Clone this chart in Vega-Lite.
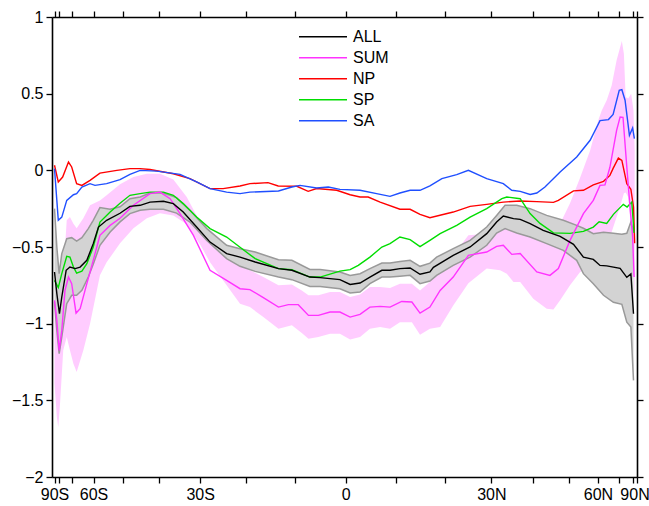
{
"$schema":"https://vega.github.io/schema/vega-lite/v6.json",
"width":585,"height":460,
"autosize":{"type":"none"},
"padding":{"left":52,"top":17,"right":12,"bottom":29},
"config":{"view":{"stroke":null},"font":"Liberation Sans",
"axis":{"domainColor":"#000","domainWidth":1.6,"tickColor":"#000","tickWidth":1.3,"tickSize":6,"labelFont":"Liberation Sans","labelFontSize":16,"labelColor":"#000","grid":false,"title":null,"labelFlush":false,"labelOverlap":false},
"legend":{"labelFont":"Liberation Sans","labelFontSize":16,"labelColor":"#000","padding":0}},
"datasets":{
"pink":[
{"sinlat":-1.0,"hi":-0.835,"lo":-1.389},{"sinlat":-0.992,"hi":-0.913,"lo":-1.609},{"sinlat":-0.987,"hi":-0.998,"lo":-1.675},{"sinlat":-0.981,"hi":-0.946,"lo":-1.52},{"sinlat":-0.97,"hi":-0.685,"lo":-1.174},{"sinlat":-0.958,"hi":-0.326,"lo":-1.087},{"sinlat":-0.947,"hi":-0.305,"lo":-1.174},{"sinlat":-0.935,"hi":-0.348,"lo":-1.261},{"sinlat":-0.924,"hi":-0.378,"lo":-1.316},{"sinlat":-0.901,"hi":-0.313,"lo":-1.174},{"sinlat":-0.878,"hi":-0.228,"lo":-1.0},{"sinlat":-0.844,"hi":-0.196,"lo":-0.685},{"sinlat":-0.821,"hi":-0.163,"lo":-0.6},{"sinlat":-0.775,"hi":-0.091,"lo":-0.476},{"sinlat":-0.729,"hi":-0.044,"lo":-0.378},{"sinlat":-0.683,"hi":-0.022,"lo":-0.313},{"sinlat":-0.638,"hi":-0.022,"lo":-0.28},{"sinlat":-0.592,"hi":-0.059,"lo":-0.294},{"sinlat":-0.546,"hi":-0.174,"lo":-0.352},{"sinlat":-0.5,"hi":-0.339,"lo":-0.483},{"sinlat":-0.466,"hi":-0.444,"lo":-0.6},{"sinlat":-0.409,"hi":-0.554,"lo":-0.75},{"sinlat":-0.363,"hi":-0.62,"lo":-0.87},{"sinlat":-0.329,"hi":-0.652,"lo":-0.892},{"sinlat":-0.283,"hi":-0.696,"lo":-0.957},{"sinlat":-0.231,"hi":-0.75,"lo":-1.033},{"sinlat":-0.185,"hi":-0.744,"lo":-1.011},{"sinlat":-0.151,"hi":-0.783,"lo":-1.061},{"sinlat":-0.128,"hi":-0.815,"lo":-1.098},{"sinlat":-0.094,"hi":-0.815,"lo":-1.087},{"sinlat":-0.054,"hi":-0.794,"lo":-1.065},{"sinlat":-0.02,"hi":-0.794,"lo":-1.065},{"sinlat":0.015,"hi":-0.826,"lo":-1.104},{"sinlat":0.049,"hi":-0.809,"lo":-1.087},{"sinlat":0.083,"hi":-0.761,"lo":-1.033},{"sinlat":0.118,"hi":-0.761,"lo":-1.022},{"sinlat":0.152,"hi":-0.768,"lo":-1.033},{"sinlat":0.186,"hi":-0.739,"lo":-0.99},{"sinlat":0.227,"hi":-0.739,"lo":-0.99},{"sinlat":0.255,"hi":-0.783,"lo":-1.072},{"sinlat":0.289,"hi":-0.729,"lo":-1.033},{"sinlat":0.324,"hi":-0.631,"lo":-1.022},{"sinlat":0.369,"hi":-0.554,"lo":-0.881},{"sinlat":0.421,"hi":-0.424,"lo":-0.737},{"sinlat":0.484,"hi":-0.413,"lo":-0.641},{"sinlat":0.53,"hi":-0.348,"lo":-0.652},{"sinlat":0.553,"hi":-0.352,"lo":-0.674},{"sinlat":0.576,"hi":-0.359,"lo":-0.729},{"sinlat":0.599,"hi":-0.362,"lo":-0.729},{"sinlat":0.644,"hi":-0.391,"lo":-0.837},{"sinlat":0.69,"hi":-0.417,"lo":-0.903},{"sinlat":0.713,"hi":-0.435,"lo":-0.907},{"sinlat":0.736,"hi":-0.348,"lo":-0.848},{"sinlat":0.77,"hi":-0.215,"lo":-0.75},{"sinlat":0.804,"hi":-0.052,"lo":-0.665},{"sinlat":0.839,"hi":0.13,"lo":-0.613},{"sinlat":0.867,"hi":0.326,"lo":-0.543},{"sinlat":0.879,"hi":0.391,"lo":-0.576},{"sinlat":0.896,"hi":0.457,"lo":-0.5},{"sinlat":0.913,"hi":0.554,"lo":-0.402},{"sinlat":0.93,"hi":0.718,"lo":-0.305},{"sinlat":0.948,"hi":0.843,"lo":-0.196},{"sinlat":0.955,"hi":0.761,"lo":-0.15},{"sinlat":0.961,"hi":0.478,"lo":-0.144},{"sinlat":0.97,"hi":0.468,"lo":-0.176},{"sinlat":0.98,"hi":0.5,"lo":-0.391},{"sinlat":0.988,"hi":0.391,"lo":-0.652},{"sinlat":0.992,"hi":0.13,"lo":-0.848}
],
"gray":[
{"sinlat":-1.0,"hi":-0.25,"lo":-0.859},{"sinlat":-0.992,"hi":-0.5,"lo":-1.044},{"sinlat":-0.984,"hi":-0.674,"lo":-1.196},{"sinlat":-0.975,"hi":-0.543,"lo":-1.087},{"sinlat":-0.958,"hi":-0.446,"lo":-0.87},{"sinlat":-0.941,"hi":-0.439,"lo":-0.815},{"sinlat":-0.924,"hi":-0.461,"lo":-0.815},{"sinlat":-0.906,"hi":-0.439,"lo":-0.783},{"sinlat":-0.884,"hi":-0.38,"lo":-0.696},{"sinlat":-0.867,"hi":-0.326,"lo":-0.613},{"sinlat":-0.844,"hi":-0.243,"lo":-0.489},{"sinlat":-0.809,"hi":-0.254,"lo":-0.402},{"sinlat":-0.775,"hi":-0.238,"lo":-0.336},{"sinlat":-0.741,"hi":-0.185,"lo":-0.282},{"sinlat":-0.706,"hi":-0.174,"lo":-0.261},{"sinlat":-0.672,"hi":-0.148,"lo":-0.254},{"sinlat":-0.626,"hi":-0.148,"lo":-0.254},{"sinlat":-0.581,"hi":-0.178,"lo":-0.279},{"sinlat":-0.535,"hi":-0.261,"lo":-0.337},{"sinlat":-0.477,"hi":-0.38,"lo":-0.457},{"sinlat":-0.409,"hi":-0.489,"lo":-0.576},{"sinlat":-0.363,"hi":-0.511,"lo":-0.626},{"sinlat":-0.311,"hi":-0.533,"lo":-0.659},{"sinlat":-0.231,"hi":-0.583,"lo":-0.696},{"sinlat":-0.185,"hi":-0.587,"lo":-0.713},{"sinlat":-0.123,"hi":-0.646,"lo":-0.757},{"sinlat":-0.088,"hi":-0.646,"lo":-0.757},{"sinlat":-0.02,"hi":-0.663,"lo":-0.772},{"sinlat":0.015,"hi":-0.685,"lo":-0.8},{"sinlat":0.049,"hi":-0.674,"lo":-0.794},{"sinlat":0.083,"hi":-0.641,"lo":-0.739},{"sinlat":0.124,"hi":-0.605,"lo":-0.696},{"sinlat":0.152,"hi":-0.605,"lo":-0.696},{"sinlat":0.186,"hi":-0.594,"lo":-0.691},{"sinlat":0.221,"hi":-0.587,"lo":-0.685},{"sinlat":0.255,"hi":-0.626,"lo":-0.739},{"sinlat":0.289,"hi":-0.605,"lo":-0.722},{"sinlat":0.312,"hi":-0.566,"lo":-0.685},{"sinlat":0.369,"hi":-0.511,"lo":-0.62},{"sinlat":0.427,"hi":-0.457,"lo":-0.566},{"sinlat":0.484,"hi":-0.37,"lo":-0.489},{"sinlat":0.518,"hi":-0.294,"lo":-0.409},{"sinlat":0.547,"hi":-0.228,"lo":-0.38},{"sinlat":0.587,"hi":-0.228,"lo":-0.409},{"sinlat":0.633,"hi":-0.25,"lo":-0.435},{"sinlat":0.69,"hi":-0.294,"lo":-0.478},{"sinlat":0.747,"hi":-0.326,"lo":-0.522},{"sinlat":0.793,"hi":-0.359,"lo":-0.587},{"sinlat":0.816,"hi":-0.378,"lo":-0.674},{"sinlat":0.85,"hi":-0.413,"lo":-0.739},{"sinlat":0.885,"hi":-0.404,"lo":-0.815},{"sinlat":0.919,"hi":-0.411,"lo":-0.861},{"sinlat":0.948,"hi":-0.417,"lo":-0.874},{"sinlat":0.965,"hi":-0.411,"lo":-0.99},{"sinlat":0.979,"hi":-0.337,"lo":-1.022},{"sinlat":0.988,"hi":-0.398,"lo":-1.37}
],
"lines":[
{"series":"NP","sinlat":-1.0,"value":0.033},{"series":"NP","sinlat":-0.987,"value":-0.076},{"series":"NP","sinlat":-0.972,"value":-0.044},{"series":"NP","sinlat":-0.952,"value":0.054},{"series":"NP","sinlat":-0.941,"value":0.022},{"series":"NP","sinlat":-0.924,"value":-0.087},{"series":"NP","sinlat":-0.906,"value":-0.098},{"series":"NP","sinlat":-0.878,"value":-0.065},{"series":"NP","sinlat":-0.844,"value":-0.018},{"series":"NP","sinlat":-0.786,"value":0.0},{"series":"NP","sinlat":-0.741,"value":0.011},{"series":"NP","sinlat":-0.706,"value":0.011},{"series":"NP","sinlat":-0.672,"value":0.005},{"series":"NP","sinlat":-0.592,"value":-0.022},{"series":"NP","sinlat":-0.535,"value":-0.054},{"series":"NP","sinlat":-0.466,"value":-0.119},{"series":"NP","sinlat":-0.421,"value":-0.119},{"series":"NP","sinlat":-0.363,"value":-0.102},{"series":"NP","sinlat":-0.329,"value":-0.087},{"series":"NP","sinlat":-0.267,"value":-0.08},{"series":"NP","sinlat":-0.232,"value":-0.102},{"series":"NP","sinlat":-0.168,"value":-0.104},{"series":"NP","sinlat":-0.129,"value":-0.137},{"series":"NP","sinlat":-0.1,"value":-0.119},{"series":"NP","sinlat":-0.031,"value":-0.13},{"series":"NP","sinlat":0.015,"value":-0.159},{"series":"NP","sinlat":0.049,"value":-0.174},{"series":"NP","sinlat":0.077,"value":-0.174},{"series":"NP","sinlat":0.118,"value":-0.207},{"series":"NP","sinlat":0.186,"value":-0.254},{"series":"NP","sinlat":0.221,"value":-0.254},{"series":"NP","sinlat":0.255,"value":-0.287},{"series":"NP","sinlat":0.289,"value":-0.309},{"series":"NP","sinlat":0.369,"value":-0.272},{"series":"NP","sinlat":0.427,"value":-0.235},{"series":"NP","sinlat":0.484,"value":-0.222},{"series":"NP","sinlat":0.541,"value":-0.207},{"series":"NP","sinlat":0.599,"value":-0.2},{"series":"NP","sinlat":0.656,"value":-0.204},{"series":"NP","sinlat":0.713,"value":-0.209},{"series":"NP","sinlat":0.73,"value":-0.196},{"series":"NP","sinlat":0.782,"value":-0.134},{"series":"NP","sinlat":0.816,"value":-0.13},{"series":"NP","sinlat":0.85,"value":-0.095},{"series":"NP","sinlat":0.885,"value":-0.072},{"series":"NP","sinlat":0.907,"value":-0.033},{"series":"NP","sinlat":0.918,"value":0.013},{"series":"NP","sinlat":0.936,"value":0.08},{"series":"NP","sinlat":0.948,"value":0.065},{"series":"NP","sinlat":0.965,"value":-0.087},{"series":"NP","sinlat":0.979,"value":-0.124},{"series":"NP","sinlat":0.988,"value":-0.239},{"series":"NP","sinlat":0.992,"value":-0.476},
{"series":"SA","sinlat":-1.0,"value":0.011},{"series":"SA","sinlat":-0.992,"value":-0.196},{"series":"SA","sinlat":-0.987,"value":-0.326},{"series":"SA","sinlat":-0.975,"value":-0.305},{"series":"SA","sinlat":-0.958,"value":-0.196},{"series":"SA","sinlat":-0.935,"value":-0.159},{"series":"SA","sinlat":-0.924,"value":-0.152},{"series":"SA","sinlat":-0.906,"value":-0.109},{"series":"SA","sinlat":-0.878,"value":-0.087},{"series":"SA","sinlat":-0.861,"value":-0.098},{"series":"SA","sinlat":-0.821,"value":-0.087},{"series":"SA","sinlat":-0.775,"value":-0.061},{"series":"SA","sinlat":-0.741,"value":-0.026},{"series":"SA","sinlat":-0.706,"value":0.0},{"series":"SA","sinlat":-0.649,"value":-0.005},{"series":"SA","sinlat":-0.569,"value":-0.026},{"series":"SA","sinlat":-0.512,"value":-0.076},{"series":"SA","sinlat":-0.466,"value":-0.119},{"series":"SA","sinlat":-0.409,"value":-0.142},{"series":"SA","sinlat":-0.363,"value":-0.152},{"series":"SA","sinlat":-0.329,"value":-0.142},{"series":"SA","sinlat":-0.231,"value":-0.135},{"series":"SA","sinlat":-0.185,"value":-0.109},{"series":"SA","sinlat":-0.157,"value":-0.098},{"series":"SA","sinlat":-0.1,"value":-0.115},{"series":"SA","sinlat":-0.06,"value":-0.109},{"series":"SA","sinlat":-0.02,"value":-0.124},{"series":"SA","sinlat":0.049,"value":-0.13},{"series":"SA","sinlat":0.106,"value":-0.152},{"series":"SA","sinlat":0.152,"value":-0.17},{"series":"SA","sinlat":0.186,"value":-0.148},{"series":"SA","sinlat":0.221,"value":-0.13},{"series":"SA","sinlat":0.255,"value":-0.13},{"series":"SA","sinlat":0.289,"value":-0.101},{"series":"SA","sinlat":0.33,"value":-0.054},{"series":"SA","sinlat":0.381,"value":-0.028},{"series":"SA","sinlat":0.421,"value":0.0},{"series":"SA","sinlat":0.484,"value":-0.054},{"series":"SA","sinlat":0.541,"value":-0.087},{"series":"SA","sinlat":0.57,"value":-0.13},{"series":"SA","sinlat":0.599,"value":-0.137},{"series":"SA","sinlat":0.633,"value":-0.157},{"series":"SA","sinlat":0.656,"value":-0.148},{"series":"SA","sinlat":0.684,"value":-0.109},{"series":"SA","sinlat":0.736,"value":-0.011},{"series":"SA","sinlat":0.793,"value":0.087},{"series":"SA","sinlat":0.839,"value":0.196},{"series":"SA","sinlat":0.873,"value":0.324},{"series":"SA","sinlat":0.902,"value":0.331},{"series":"SA","sinlat":0.918,"value":0.365},{"series":"SA","sinlat":0.939,"value":0.522},{"series":"SA","sinlat":0.948,"value":0.526},{"series":"SA","sinlat":0.959,"value":0.457},{"series":"SA","sinlat":0.974,"value":0.228},{"series":"SA","sinlat":0.985,"value":0.276},{"series":"SA","sinlat":0.991,"value":0.207},
{"series":"SP","sinlat":-1.0,"value":-0.718},{"series":"SP","sinlat":-0.987,"value":-0.765},{"series":"SP","sinlat":-0.975,"value":-0.674},{"series":"SP","sinlat":-0.958,"value":-0.561},{"series":"SP","sinlat":-0.947,"value":-0.566},{"series":"SP","sinlat":-0.935,"value":-0.631},{"series":"SP","sinlat":-0.924,"value":-0.67},{"series":"SP","sinlat":-0.906,"value":-0.657},{"series":"SP","sinlat":-0.889,"value":-0.609},{"series":"SP","sinlat":-0.867,"value":-0.5},{"series":"SP","sinlat":-0.844,"value":-0.337},{"series":"SP","sinlat":-0.809,"value":-0.272},{"series":"SP","sinlat":-0.775,"value":-0.215},{"series":"SP","sinlat":-0.741,"value":-0.163},{"series":"SP","sinlat":-0.706,"value":-0.152},{"series":"SP","sinlat":-0.672,"value":-0.142},{"series":"SP","sinlat":-0.626,"value":-0.142},{"series":"SP","sinlat":-0.592,"value":-0.163},{"series":"SP","sinlat":-0.558,"value":-0.217},{"series":"SP","sinlat":-0.512,"value":-0.305},{"series":"SP","sinlat":-0.466,"value":-0.38},{"series":"SP","sinlat":-0.409,"value":-0.435},{"series":"SP","sinlat":-0.363,"value":-0.502},{"series":"SP","sinlat":-0.311,"value":-0.576},{"series":"SP","sinlat":-0.231,"value":-0.641},{"series":"SP","sinlat":-0.185,"value":-0.648},{"series":"SP","sinlat":-0.123,"value":-0.696},{"series":"SP","sinlat":-0.088,"value":-0.696},{"series":"SP","sinlat":-0.02,"value":-0.657},{"series":"SP","sinlat":0.015,"value":-0.648},{"series":"SP","sinlat":0.043,"value":-0.62},{"series":"SP","sinlat":0.083,"value":-0.566},{"series":"SP","sinlat":0.124,"value":-0.5},{"series":"SP","sinlat":0.152,"value":-0.478},{"series":"SP","sinlat":0.186,"value":-0.435},{"series":"SP","sinlat":0.221,"value":-0.452},{"series":"SP","sinlat":0.255,"value":-0.498},{"series":"SP","sinlat":0.289,"value":-0.457},{"series":"SP","sinlat":0.324,"value":-0.413},{"series":"SP","sinlat":0.381,"value":-0.359},{"series":"SP","sinlat":0.427,"value":-0.305},{"series":"SP","sinlat":0.484,"value":-0.25},{"series":"SP","sinlat":0.536,"value":-0.185},{"series":"SP","sinlat":0.553,"value":-0.174},{"series":"SP","sinlat":0.599,"value":-0.185},{"series":"SP","sinlat":0.633,"value":-0.282},{"series":"SP","sinlat":0.667,"value":-0.346},{"series":"SP","sinlat":0.713,"value":-0.408},{"series":"SP","sinlat":0.77,"value":-0.411},{"series":"SP","sinlat":0.816,"value":-0.398},{"series":"SP","sinlat":0.85,"value":-0.37},{"series":"SP","sinlat":0.87,"value":-0.336},{"series":"SP","sinlat":0.896,"value":-0.346},{"series":"SP","sinlat":0.919,"value":-0.287},{"series":"SP","sinlat":0.953,"value":-0.222},{"series":"SP","sinlat":0.966,"value":-0.239},{"series":"SP","sinlat":0.982,"value":-0.207},{"series":"SP","sinlat":0.99,"value":-0.408},
{"series":"SUM","sinlat":-1.0,"value":-0.848},{"series":"SUM","sinlat":-0.992,"value":-0.978},{"series":"SUM","sinlat":-0.984,"value":-1.174},{"series":"SUM","sinlat":-0.975,"value":-1.044},{"series":"SUM","sinlat":-0.964,"value":-0.783},{"series":"SUM","sinlat":-0.952,"value":-0.696},{"series":"SUM","sinlat":-0.941,"value":-0.739},{"series":"SUM","sinlat":-0.926,"value":-0.931},{"series":"SUM","sinlat":-0.912,"value":-0.902},{"series":"SUM","sinlat":-0.889,"value":-0.739},{"series":"SUM","sinlat":-0.867,"value":-0.587},{"series":"SUM","sinlat":-0.844,"value":-0.424},{"series":"SUM","sinlat":-0.809,"value":-0.359},{"series":"SUM","sinlat":-0.775,"value":-0.313},{"series":"SUM","sinlat":-0.729,"value":-0.228},{"series":"SUM","sinlat":-0.672,"value":-0.152},{"series":"SUM","sinlat":-0.638,"value":-0.142},{"series":"SUM","sinlat":-0.603,"value":-0.185},{"series":"SUM","sinlat":-0.569,"value":-0.282},{"series":"SUM","sinlat":-0.523,"value":-0.424},{"series":"SUM","sinlat":-0.466,"value":-0.652},{"series":"SUM","sinlat":-0.409,"value":-0.718},{"series":"SUM","sinlat":-0.363,"value":-0.772},{"series":"SUM","sinlat":-0.329,"value":-0.778},{"series":"SUM","sinlat":-0.283,"value":-0.83},{"series":"SUM","sinlat":-0.231,"value":-0.892},{"series":"SUM","sinlat":-0.197,"value":-0.876},{"series":"SUM","sinlat":-0.163,"value":-0.876},{"series":"SUM","sinlat":-0.128,"value":-0.946},{"series":"SUM","sinlat":-0.094,"value":-0.946},{"series":"SUM","sinlat":-0.054,"value":-0.924},{"series":"SUM","sinlat":-0.02,"value":-0.924},{"series":"SUM","sinlat":0.015,"value":-0.957},{"series":"SUM","sinlat":0.049,"value":-0.939},{"series":"SUM","sinlat":0.083,"value":-0.892},{"series":"SUM","sinlat":0.118,"value":-0.887},{"series":"SUM","sinlat":0.152,"value":-0.892},{"series":"SUM","sinlat":0.192,"value":-0.855},{"series":"SUM","sinlat":0.227,"value":-0.859},{"series":"SUM","sinlat":0.255,"value":-0.931},{"series":"SUM","sinlat":0.289,"value":-0.892},{"series":"SUM","sinlat":0.324,"value":-0.783},{"series":"SUM","sinlat":0.369,"value":-0.696},{"series":"SUM","sinlat":0.421,"value":-0.554},{"series":"SUM","sinlat":0.484,"value":-0.533},{"series":"SUM","sinlat":0.518,"value":-0.496},{"series":"SUM","sinlat":0.541,"value":-0.489},{"series":"SUM","sinlat":0.57,"value":-0.548},{"series":"SUM","sinlat":0.599,"value":-0.543},{"series":"SUM","sinlat":0.656,"value":-0.663},{"series":"SUM","sinlat":0.701,"value":-0.685},{"series":"SUM","sinlat":0.73,"value":-0.641},{"series":"SUM","sinlat":0.77,"value":-0.457},{"series":"SUM","sinlat":0.816,"value":-0.282},{"series":"SUM","sinlat":0.85,"value":-0.196},{"series":"SUM","sinlat":0.873,"value":-0.098},{"series":"SUM","sinlat":0.89,"value":-0.095},{"series":"SUM","sinlat":0.907,"value":0.02},{"series":"SUM","sinlat":0.93,"value":0.261},{"series":"SUM","sinlat":0.942,"value":0.348},{"series":"SUM","sinlat":0.952,"value":0.346},{"series":"SUM","sinlat":0.965,"value":0.022},{"series":"SUM","sinlat":0.976,"value":-0.239},{"series":"SUM","sinlat":0.985,"value":-0.435},{"series":"SUM","sinlat":0.99,"value":-0.696},
{"series":"ALL","sinlat":-1.0,"value":-0.663},{"series":"ALL","sinlat":-0.992,"value":-0.804},{"series":"ALL","sinlat":-0.983,"value":-0.935},{"series":"ALL","sinlat":-0.975,"value":-0.826},{"series":"ALL","sinlat":-0.96,"value":-0.652},{"series":"ALL","sinlat":-0.947,"value":-0.631},{"series":"ALL","sinlat":-0.929,"value":-0.641},{"series":"ALL","sinlat":-0.912,"value":-0.631},{"series":"ALL","sinlat":-0.889,"value":-0.587},{"series":"ALL","sinlat":-0.867,"value":-0.478},{"series":"ALL","sinlat":-0.849,"value":-0.37},{"series":"ALL","sinlat":-0.821,"value":-0.326},{"series":"ALL","sinlat":-0.775,"value":-0.28},{"series":"ALL","sinlat":-0.741,"value":-0.235},{"series":"ALL","sinlat":-0.706,"value":-0.228},{"series":"ALL","sinlat":-0.672,"value":-0.207},{"series":"ALL","sinlat":-0.626,"value":-0.202},{"series":"ALL","sinlat":-0.592,"value":-0.217},{"series":"ALL","sinlat":-0.558,"value":-0.272},{"series":"ALL","sinlat":-0.512,"value":-0.37},{"series":"ALL","sinlat":-0.466,"value":-0.468},{"series":"ALL","sinlat":-0.409,"value":-0.543},{"series":"ALL","sinlat":-0.363,"value":-0.566},{"series":"ALL","sinlat":-0.311,"value":-0.598},{"series":"ALL","sinlat":-0.231,"value":-0.641},{"series":"ALL","sinlat":-0.185,"value":-0.652},{"series":"ALL","sinlat":-0.123,"value":-0.696},{"series":"ALL","sinlat":-0.088,"value":-0.7},{"series":"ALL","sinlat":-0.02,"value":-0.713},{"series":"ALL","sinlat":0.015,"value":-0.744},{"series":"ALL","sinlat":0.049,"value":-0.735},{"series":"ALL","sinlat":0.083,"value":-0.696},{"series":"ALL","sinlat":0.124,"value":-0.652},{"series":"ALL","sinlat":0.152,"value":-0.652},{"series":"ALL","sinlat":0.186,"value":-0.641},{"series":"ALL","sinlat":0.221,"value":-0.637},{"series":"ALL","sinlat":0.255,"value":-0.678},{"series":"ALL","sinlat":0.289,"value":-0.663},{"series":"ALL","sinlat":0.301,"value":-0.633},{"series":"ALL","sinlat":0.369,"value":-0.554},{"series":"ALL","sinlat":0.427,"value":-0.5},{"series":"ALL","sinlat":0.484,"value":-0.413},{"series":"ALL","sinlat":0.518,"value":-0.337},{"series":"ALL","sinlat":0.541,"value":-0.298},{"series":"ALL","sinlat":0.576,"value":-0.315},{"series":"ALL","sinlat":0.599,"value":-0.32},{"series":"ALL","sinlat":0.633,"value":-0.348},{"series":"ALL","sinlat":0.678,"value":-0.391},{"series":"ALL","sinlat":0.736,"value":-0.431},{"series":"ALL","sinlat":0.782,"value":-0.483},{"series":"ALL","sinlat":0.816,"value":-0.566},{"series":"ALL","sinlat":0.85,"value":-0.581},{"series":"ALL","sinlat":0.873,"value":-0.62},{"series":"ALL","sinlat":0.896,"value":-0.623},{"series":"ALL","sinlat":0.942,"value":-0.639},{"series":"ALL","sinlat":0.965,"value":-0.698},{"series":"ALL","sinlat":0.979,"value":-0.676},{"series":"ALL","sinlat":0.988,"value":-0.935}
]},
"layer":[
{"data":{"name":"pink"},"mark":{"type":"area","color":"#ffccff","opacity":1},
"encoding":{
"x":{"field":"sinlat","type":"quantitative","scale":{"domain":[-1.0086,1],"nice":false,"zero":false},
"axis":{"orient":"bottom","values":[-1,-0.9848,-0.9397,-0.866,-0.766,-0.6428,-0.5,-0.342,-0.1736,0,0.1736,0.342,0.5,0.6428,0.766,0.866,0.9397,0.9848,1],"labelPadding":3,
"labelOffset":{"condition":{"test":"datum.value > 0.99","value":-2.5},"value":0},
"labelExpr":"datum.value < -0.99 ? '90S' : abs(datum.value + 0.866) < 0.01 ? '60S' : abs(datum.value + 0.5) < 0.01 ? '30S' : abs(datum.value) < 0.01 ? '0' : abs(datum.value - 0.5) < 0.01 ? '30N' : abs(datum.value - 0.866) < 0.01 ? '60N' : datum.value > 0.99 ? '90N' : ''"}},
"y":{"field":"hi","type":"quantitative","scale":{"domain":[-2,1],"nice":false,"zero":false},
"axis":{"orient":"left","values":[-2,-1.5,-1,-0.5,0,0.5,1],"format":"~g","labelPadding":3}},
"y2":{"field":"lo"}}},
{"data":{"name":"gray"},"mark":{"type":"area","color":"#d3d3d3","opacity":1},
"encoding":{
"x":{"field":"sinlat","type":"quantitative","axis":{"orient":"top","values":[-1,-0.9848,-0.9397,-0.866,-0.766,-0.6428,-0.5,-0.342,-0.1736,0,0.1736,0.342,0.5,0.6428,0.766,0.866,0.9397,0.9848,1],"labels":false}},
"y":{"field":"hi","type":"quantitative","axis":{"orient":"right","values":[-2,-1.5,-1,-0.5,0,0.5,1],"labels":false}},
"y2":{"field":"lo"}}},
{"data":{"name":"gray"},"mark":{"type":"line","color":"#999999","strokeWidth":1.5},
"encoding":{"x":{"field":"sinlat","type":"quantitative","axis":null},"y":{"field":"hi","type":"quantitative","axis":null}}},
{"data":{"name":"gray"},"mark":{"type":"line","color":"#999999","strokeWidth":1.5},
"encoding":{"x":{"field":"sinlat","type":"quantitative","axis":null},"y":{"field":"lo","type":"quantitative","axis":null}}},
{"data":{"name":"lines"},"mark":{"type":"line","strokeWidth":1.4},
"encoding":{"x":{"field":"sinlat","type":"quantitative","axis":null},"y":{"field":"value","type":"quantitative","axis":null},
"color":{"field":"series","type":"nominal","scale":{"domain":["ALL","SUM","NP","SP","SA"],"range":["#000000","#ff33ff","#ff0000","#00dd00","#1f4fff"]},
"legend":{"orient":"none","legendX":246,"legendY":9.4,"title":null,"symbolType":"stroke","symbolSize":2304,"symbolStrokeWidth":1.5,"clipHeight":20.7,"rowPadding":0,"labelOffset":5,"labelFontSize":16,"padding":0}}}}
],
"resolve":{"axis":{"x":"independent","y":"independent"}}
}
